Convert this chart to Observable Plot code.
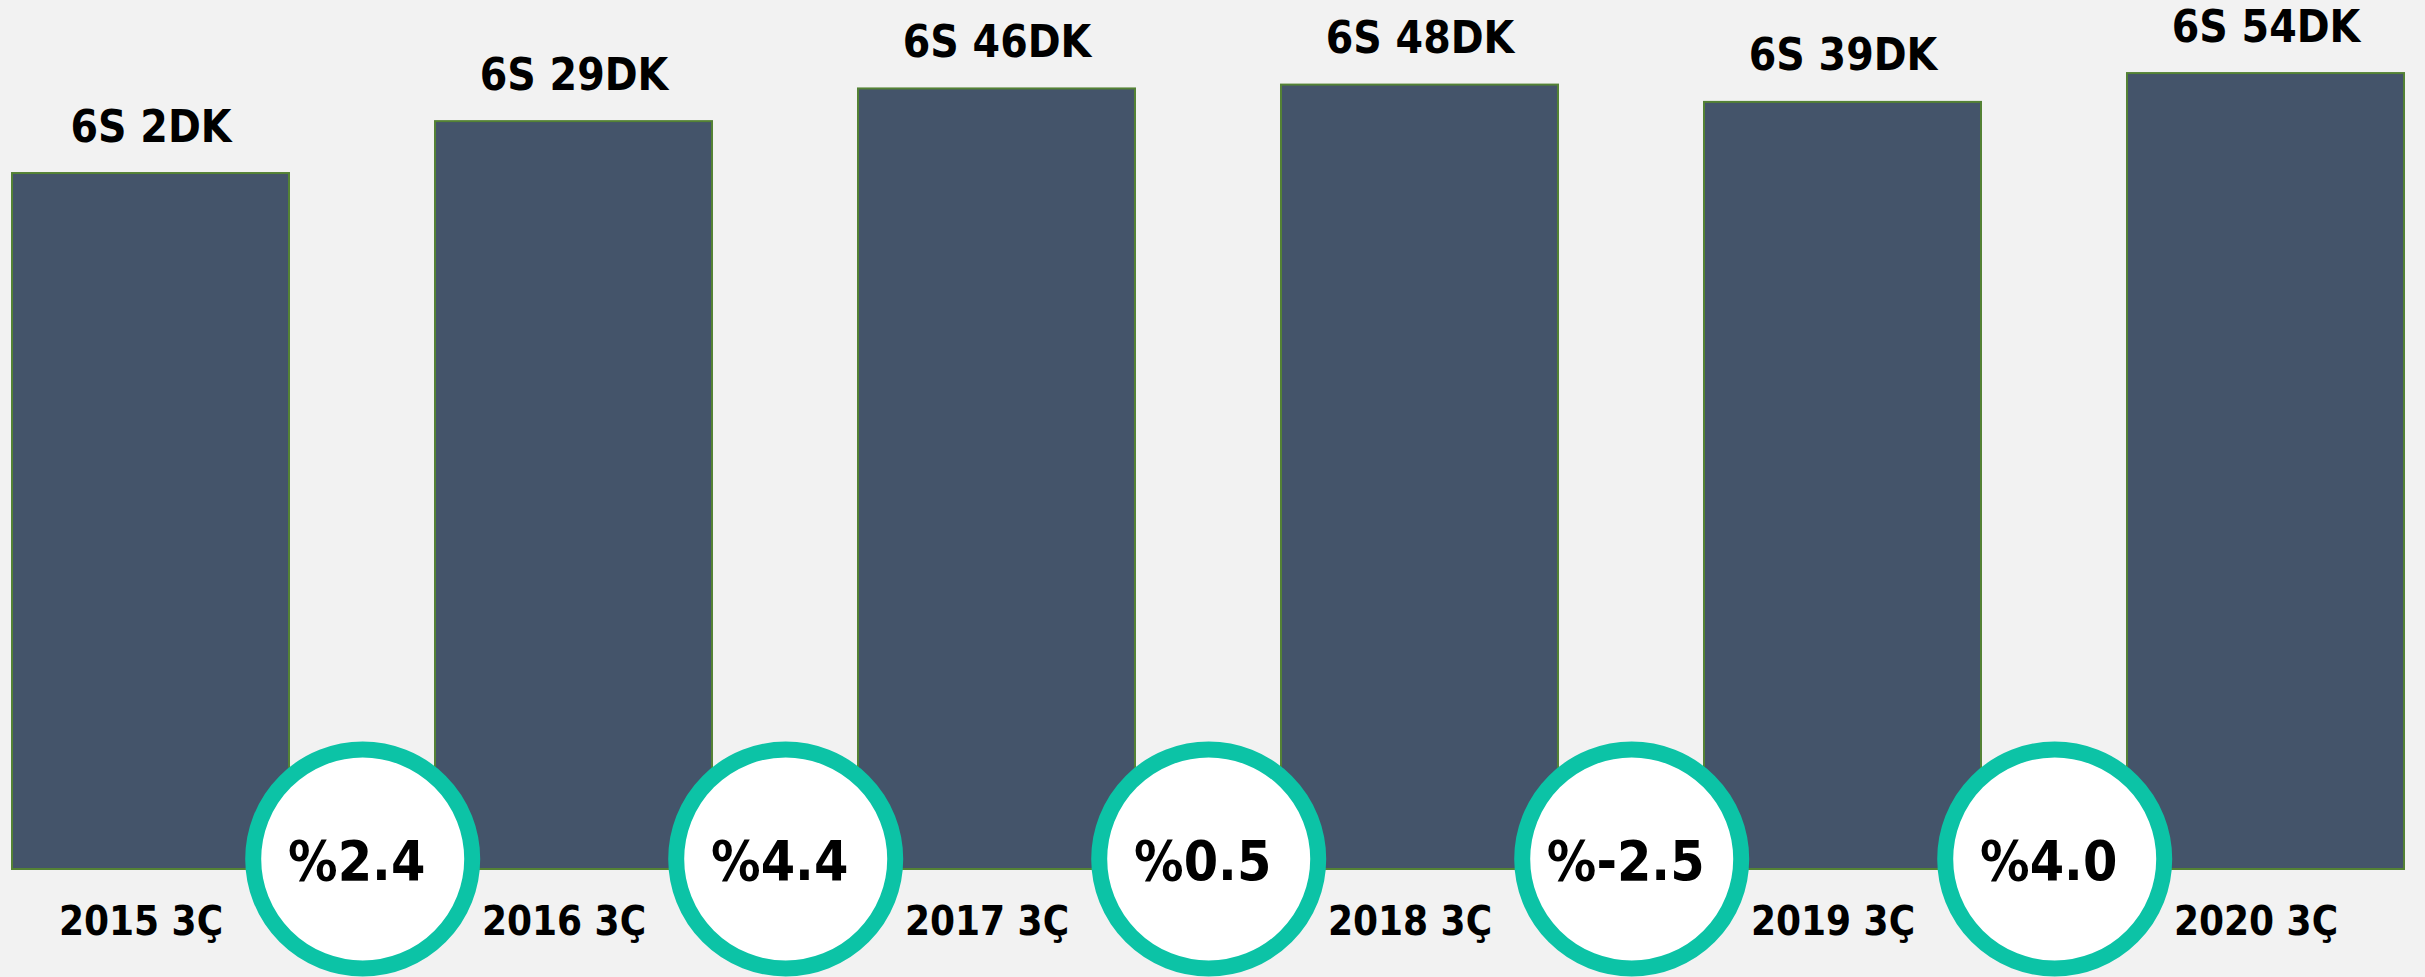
<!DOCTYPE html>
<html>
<head>
<meta charset="utf-8">
<script src="https://cdn.jsdelivr.net/npm/d3@7"></script>
<script src="https://cdn.jsdelivr.net/npm/@observablehq/plot@0.6"></script>
<style>
  html, body { margin: 0; padding: 0; background: #f2f2f2; }
  #chart { width: 2425px; height: 977px; overflow: hidden; }
</style>
</head>
<body>
<div id="chart"></div>
<script>
// Data
const categories = ["2015 3Ç", "2016 3Ç", "2017 3Ç", "2018 3Ç", "2019 3Ç", "2020 3Ç"];
const hours = [6, 6, 6, 6, 6, 6];
const minutes = [2, 29, 46, 48, 39, 54];
const changes = [2.4, 4.4, 0.5, -2.5, 4.0]; // % change between consecutive years

const rows = categories.map((c, i) => ({
  cat: c,
  total: hours[i] * 60 + minutes[i],
  label: `${hours[i]}S ${minutes[i]}DK`
}));
const gaps = changes.map((v, i) => ({ cat: categories[i], v }));

const W = 2425, H = 977;
const mL = 11, mR = 20, mT = 0, mB = 108;
const padInner = 0.346;
const step = (W - mL - mR) / (categories.length - padInner);

const font = "'Liberation Sans Narrow', 'DejaVu Sans Condensed', sans-serif";

const chart = Plot.plot({
  width: W,
  height: H,
  marginLeft: mL,
  marginRight: mR,
  marginTop: mT,
  marginBottom: mB,
  style: { background: "#f2f2f2", fontFamily: font, overflow: "hidden" },
  x: { domain: categories, paddingInner: padInner, paddingOuter: 0, axis: null },
  y: { domain: [0, 452], axis: null },
  marks: [
    Plot.barY(rows, { x: "cat", y: "total", fill: "#44546a", stroke: "#548235", strokeWidth: 2 }),
    Plot.text(rows, { x: "cat", y: "total", text: "label", lineAnchor: "middle", dy: -46, fontSize: 44, fontWeight: "bold", fill: "#000" }),
    Plot.text(rows, { x: "cat", text: "cat", frameAnchor: "bottom", lineAnchor: "middle", dy: 53, dx: -10, fontSize: 40, fontWeight: "bold", fill: "#000" }),
    Plot.dot(gaps, { x: "cat", frameAnchor: "bottom", r: 109.5, fill: "white", stroke: "#0cc3a6", strokeWidth: 16, dx: step / 2, dy: -10.5 }),
    Plot.text(gaps, { x: "cat", frameAnchor: "bottom", lineAnchor: "middle", text: d => "%" + d.v.toFixed(1), dx: step / 2 - 6, dy: -7, fontSize: 55, fontWeight: "bold", fill: "#000" })
  ]
});
document.getElementById("chart").append(chart);
</script>
</body>
</html>
